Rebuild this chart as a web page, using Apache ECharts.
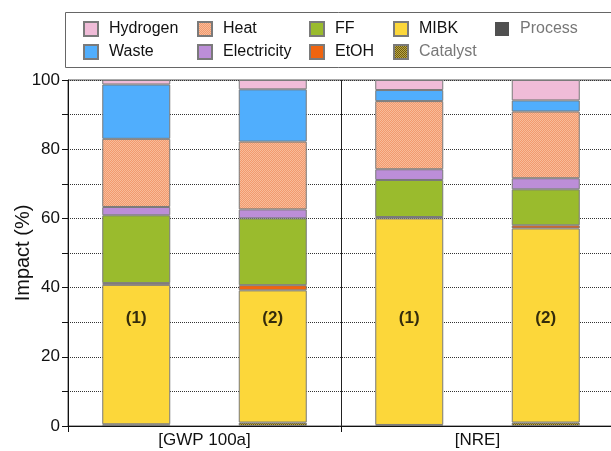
<!DOCTYPE html>
<html>
<head>
<meta charset="utf-8">
<script src="https://cdn.jsdelivr.net/npm/echarts@6/dist/echarts.min.js"></script>
<style>
  html, body { margin: 0; padding: 0; background: #fff; }
  #chart { width: 611px; height: 451px; }
</style>
</head>
<body>
<div id="chart"></div>
<script>
  // data (percent of total impact)
  const bars = ['GWP-1', 'GWP-2', 'NRE-1', 'NRE-2']
  const groups = ['[GWP 100a]', '[NRE]']
  const barTags = ['(1)', '(2)', '(1)', '(2)']
  const tagLevel = [31, 31, 31, 31]
  const catalyst = [0.5, 1.0, 0.3, 1.0]
  const mibk = [40.3, 38.2, 59.7, 56.1]
  const etoh = [0.5, 1.5, 0.4, 0.9]
  const ff = [19.6, 19.3, 10.7, 10.4]
  const electricity = [2.4, 2.6, 3.1, 3.2]
  const heat = [19.7, 19.6, 19.7, 19.3]
  const waste = [15.7, 15.1, 3.2, 3.2]
  const hydrogen = [1.3, 2.7, 2.9, 5.9]
  const processData = [0, 0, 0, 0]

  // small repeating textures for the hatched fills
  function checker(c1, c2) {
    const cv = document.createElement('canvas')
    cv.width = 2
    cv.height = 2
    const ctx = cv.getContext('2d')
    ctx.fillStyle = c1
    ctx.fillRect(0, 0, 2, 2)
    ctx.fillStyle = c2
    ctx.fillRect(0, 0, 1, 1)
    ctx.fillRect(1, 1, 1, 1)
    return {image: cv, repeat: 'repeat'}
  }
  const heatFill = checker('#F29A6E', '#F8BC9A')
  const catalystFill = checker('#6E5C10', '#BBA645')

  const font = 'Liberation Sans, Arial, sans-serif'
  const border = '#7a7a7a'

  function barSeries(name, data, color, extra) {
    return Object.assign({
      name: name,
      type: 'bar',
      stack: 'total',
      barWidth: 68,
      data: data,
      itemStyle: {color: color, borderColor: border, borderWidth: 1},
      emphasis: {disabled: true}
    }, extra || {})
  }

  const chart = echarts.init(document.getElementById('chart'), null, {renderer: 'canvas'})

  const legendCols = [
    [83, [{name: 'Hydrogen'}, {name: 'Waste'}]],
    [197, [{name: 'Heat'}, {name: 'Electricity'}]],
    [309, [{name: 'FF'}, {name: 'EtOH'}]],
    [393, [{name: 'MIBK'}, {name: 'Catalyst', textStyle: {color: '#777'}}]],
    [495, [{name: 'Process', textStyle: {color: '#777'}}]]
  ]

  const option = {
    animation: false,
    textStyle: {fontFamily: font},
    graphic: [{
      type: 'rect',
      shape: {x: 65.5, y: 12.5, width: 600, height: 55},
      style: {fill: 'none', stroke: '#666', lineWidth: 1}
    }],
    legend: legendCols.map(col => ({
      orient: 'vertical',
      left: col[0],
      top: 21,
      padding: 0,
      icon: 'rect',
      itemWidth: 14,
      itemHeight: 14,
      itemGap: 7,
      selectedMode: false,
      data: col[1],
      textStyle: {fontFamily: font, fontSize: 16, color: '#111', padding: [0, 0, 0, 6]}
    })),
    grid: {
      left: 68, right: -3, top: 80, bottom: 25,
      outerBoundsMode: 'none', containLabel: false,
      show: true, borderColor: '#555', borderWidth: 1
    },
    xAxis: [{
      type: 'category',
      data: bars,
      axisLine: {lineStyle: {color: '#111', width: 1}},
      axisTick: {show: false},
      axisLabel: {show: false}
    }, {
      type: 'category',
      data: groups,
      position: 'bottom',
      axisLine: {show: false},
      axisTick: {show: true, length: 6, interval: 0, lineStyle: {color: '#111'}},
      axisLabel: {fontFamily: font, fontSize: 17, color: '#111', margin: 6},
      splitLine: {show: true, interval: 0, lineStyle: {color: '#222', width: 1}}
    }],
    yAxis: {
      type: 'value',
      min: 0,
      max: 100,
      interval: 20,
      name: 'Impact (%)',
      nameLocation: 'middle',
      nameGap: 35,
      nameMoveOverlap: false,
      nameTextStyle: {fontFamily: font, fontSize: 20, color: '#111'},
      axisLine: {show: true, lineStyle: {color: '#111', width: 1}},
      axisTick: {show: true, length: 6, lineStyle: {color: '#111'}},
      minorTick: {show: true, splitNumber: 2, length: 6, lineStyle: {color: '#111'}},
      axisLabel: {fontFamily: font, fontSize: 17, color: '#111', margin: 8},
      splitLine: {show: true, lineStyle: {color: '#333', type: [1, 1]}},
      minorSplitLine: {show: true, lineStyle: {color: '#333', type: [1, 1]}}
    },
    series: [
      barSeries('Catalyst', catalyst, catalystFill),
      barSeries('MIBK', mibk, '#FCD73A'),
      barSeries('EtOH', etoh, '#F0640F'),
      barSeries('FF', ff, '#9ABB2D'),
      barSeries('Electricity', electricity, '#BC8ED8'),
      barSeries('Heat', heat, heatFill),
      barSeries('Waste', waste, '#50AEFD'),
      barSeries('Hydrogen', hydrogen, '#F0BCD8'),
      barSeries('Process', processData, '#505050', {itemStyle: {color: '#505050', borderColor: '#333', borderWidth: 0}}),
      {
        type: 'scatter',
        data: tagLevel,
        symbolSize: 0,
        silent: true,
        label: {
          show: true,
          position: 'inside',
          formatter: p => barTags[p.dataIndex],
          fontFamily: font,
          fontSize: 17,
          fontWeight: 'bold',
          color: '#000'
        }
      }
    ]
  }
  chart.setOption(option)
</script>
</body>
</html>
